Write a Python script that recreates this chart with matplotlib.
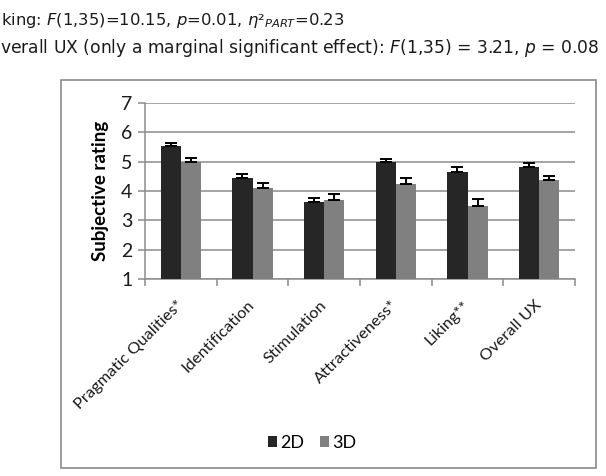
import numpy as np
import matplotlib
matplotlib.use("Agg")
from matplotlib import pyplot as plt
from matplotlib.patches import Rectangle
from matplotlib.transforms import ScaledTranslation

categories = ["Pragmatic Qualities*", "Identification", "Stimulation",
              "Attractiveness*", "Liking**", "Overall UX"]
mean_2d = [5.53, 4.43, 3.61, 4.99, 4.64, 4.83]
err_2d = [0.12, 0.16, 0.16, 0.11, 0.17, 0.11]
mean_3d = [4.98, 4.09, 3.69, 4.25, 3.48, 4.36]
err_3d = [0.16, 0.19, 0.20, 0.21, 0.24, 0.16]
series = ["2D", "3D"]

W, H = 606, 476
fig = plt.figure(figsize=(W / 100, H / 100), dpi=100)

# header lines above the chart
hdr = dict(family="DejaVu Sans", va="center", ha="left", color="#1a1a1a")
fig.text(1 / W, 1 - 20 / H,
         r"king: $\it{F}$(1,35)=10.15, $\it{p}$=0.01, $\it{\eta}$²${}_{\it{PART}}$=0.23",
         fontsize=11.8, **hdr)
fig.text(0 / W, 1 - 48 / H,
         r"verall UX (only a marginal significant effect): $\it{F}$(1,35) = 3.21, $\it{p}$ = 0.08",
         fontsize=12.3, **hdr)

# outer chart frame
fig.patches.append(Rectangle((61 / W, 1 - 468 / H), 535 / W, 388 / H, transform=fig.transFigure,
                             fill=False, edgecolor="#8a8a8a", linewidth=1.2))

ax = fig.add_axes([145 / W, 1 - 279 / H, 430 / W, 176 / H])
x = np.arange(len(categories))
bw = 0.28
ekw = dict(ecolor="black", elinewidth=1.4, capthick=1.4)
ax.bar(x - bw / 2, mean_2d, bw, color="#262626", label=series[0],
       yerr=[np.zeros(len(x)), err_2d], capsize=4, error_kw=ekw, zorder=3)
ax.bar(x + bw / 2, mean_3d, bw, color="#808080", label=series[1],
       yerr=[np.zeros(len(x)), err_3d], capsize=4, error_kw=ekw, zorder=3)

ax.set_ylim(1, 7)
ax.set_xlim(-0.5, len(categories) - 0.5)
ax.set_yticks(range(1, 8))
ax.yaxis.grid(True, color="#8c8c8c", linewidth=1.1)
ax.set_axisbelow(True)
for s in ["top", "right"]:
    ax.spines[s].set_visible(False)
for s in ["left", "bottom"]:
    ax.spines[s].set_color("#8c8c8c")
    ax.spines[s].set_linewidth(1.1)

ax.set_xticks(x)
ax.set_xticklabels(categories, rotation=45, ha="right", rotation_mode="anchor",
                   fontsize=11.8, family="Lato", color="#1a1a1a")
ax.tick_params(axis="x", which="major", length=0, pad=3)
shift = ScaledTranslation(-5 / 100, -15 / 100, fig.dpi_scale_trans)
for t in ax.get_xticklabels():
    t.set_transform(t.get_transform() + shift)
ax.set_xticks(np.arange(-0.5, len(categories)), minor=True)
ax.tick_params(axis="x", which="minor", length=5, color="#8c8c8c", width=1.1)
ax.tick_params(axis="y", length=5, color="#8c8c8c", width=1.1, labelsize=14, labelcolor="#1a1a1a", pad=4)
for t in ax.get_yticklabels():
    t.set_family("Lato")

ax.set_ylabel("Subjective rating", fontsize=13.5, fontweight="bold", family="Lato", labelpad=9)

fig.legend(loc="center", bbox_to_anchor=(312 / W, 1 - 443 / H), ncol=2, frameon=False,
           handlelength=0.5, handleheight=0.5, handletextpad=0.15, columnspacing=0.9,
           prop={"family": "Lato", "size": 13})

fig.savefig("out.png", dpi=100)
